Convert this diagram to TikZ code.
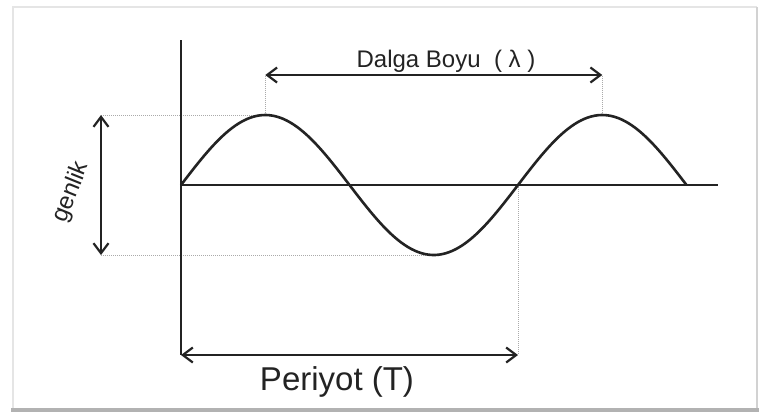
\documentclass[tikz,border=0pt]{standalone}
\usepackage{fontspec}
\setmainfont{Liberation Sans}
\usetikzlibrary{arrows.meta,positioning}
\definecolor{axisgray}{RGB}{35,35,35}
\definecolor{guidegray}{RGB}{170,170,170}
\tikzset{
  axisline/.style={axisgray, line width=2.2pt},
  waveline/.style={axisgray, line width=2.6pt},
  guide/.style={guidegray, line width=1pt, densely dotted},
  dimarrow/.style={axisgray, line width=2.2pt,
    {Straight Barb[length=10pt,width=15pt,line width=2.2pt]}-{Straight Barb[length=10pt,width=15pt,line width=2.2pt]}},
}

\begin{document}
\begin{tikzpicture}[x=1pt,y=-1pt]
    \useasboundingbox (0,0) rectangle (762,416);
    % frame with shadow
    \fill[white] (0,0) rectangle (762,416);
    \draw[gray!20, line width=2.5pt] (13,410) -- (13,7) -- (757,7);
    \draw[gray!35, line width=2.5pt] (757,7) -- (757,410);
    \draw[gray!60, line width=4.5pt] (11,410) -- (759,410);

    % key points
    \coordinate (O) at (181,185);
    \coordinate (ytop) at (181,40);
    \coordinate (ybot) at (181,355);
    \coordinate (xend) at (718,185);
    \coordinate (peakA) at (265.25,115);
    \coordinate (peakB) at (602.25,115);
    \coordinate (trough) at (433.75,255);
    \coordinate (zeroB) at (518,185);
    \coordinate (gtop) at (101,115);
    \coordinate (gbot) at (101,255);
    \coordinate (lamA) at (265.25,75);
    \coordinate (lamB) at (602.25,75);
    \coordinate (perB) at (518,355);

    % dotted guides
    \draw[guide] (gtop) -- (peakA);
    \draw[guide] (gbot) -- (trough);
    \draw[guide] (peakA) -- (lamA);
    \draw[guide] (peakB) -- (lamB);
    \draw[guide] (zeroB) -- (perB);

    % axes and wave
    \draw[axisline] (ytop) -- (ybot);
    \draw[axisline] (O) -- (xend);
    \draw[waveline] plot[domain=0:505.5, samples=150, smooth]
        ({181+\x},{185-70*sin(\x/337*360)});

    % dimension arrows
    \draw[dimarrow] (gtop) -- (gbot);
    \draw[dimarrow] (lamA) -- (lamB);
    \draw[dimarrow] (ybot) -- (perB);

    % labels
    \node[axisgray, font=\fontsize{24}{28}\selectfont, anchor=base] (lamlabel)
        at (446,67) {Dalga Boyu\ \ ( λ )};
    \node[axisgray, font=\fontsize{33}{38}\selectfont, anchor=base] (perlabel)
        at (337,390) {Periyot (T)};
    \node[axisgray, font=\fontsize{24}{28}\selectfont, rotate=68, inner sep=0pt] (amplabel)
        at (71,192) {genlik};
\end{tikzpicture}
\end{document}
